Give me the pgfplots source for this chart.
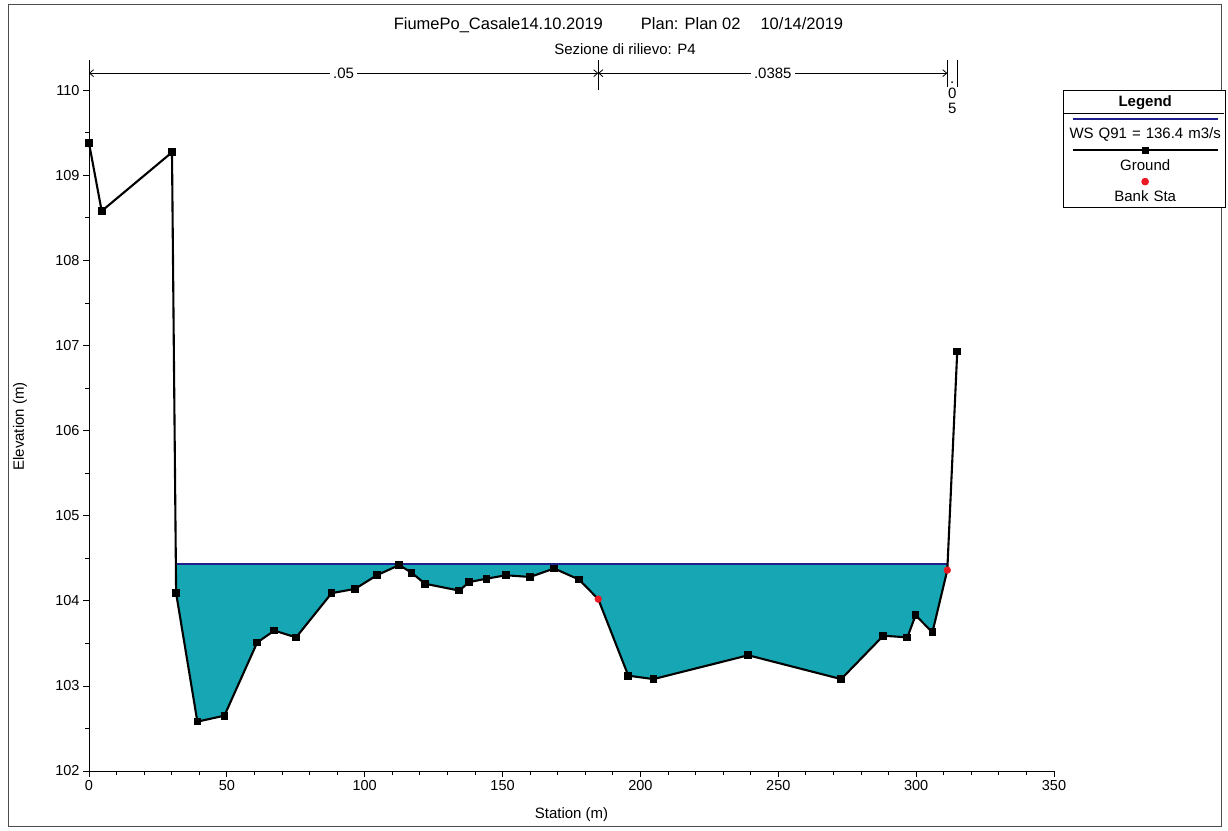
\documentclass[border=0pt]{standalone}
\usepackage{fontspec}
\setmainfont{Liberation Sans}
\usepackage{pgfplots}
\pgfplotsset{compat=1.18}
\usetikzlibrary{arrows.meta}
\definecolor{water}{RGB}{22,166,180}
\definecolor{wsblue}{RGB}{30,30,140}
\definecolor{bankred}{RGB}{235,25,35}
\begin{document}
\begin{tikzpicture}
\useasboundingbox (0pt,0pt) rectangle (1228pt,830pt);
\draw[line width=0.8pt, black!70] (8pt,4pt) rectangle (1221pt,826pt);
\node[anchor=base, font=\fontsize{16.5}{20}\selectfont, inner sep=0pt] at (618.5pt,800pt) {FiumePo\_Casale14.10.2019\hspace{38pt}Plan: Plan 02\hspace{20pt}10/14/2019};
\node[anchor=base, font=\fontsize{15}{18}\selectfont, inner sep=0pt] at (625pt,775pt) {Sezione di rilievo: P4};
\begin{axis}[
  at={(89pt,59pt)}, anchor=south west,
  scale only axis, width=965pt, height=710.6pt,
  xmin=0, xmax=350, ymin=102, ymax=110.35,
  axis lines=left, axis line style={-, line width=0.9pt},
  xtick={0,50,...,350}, ytick={102,103,...,110},
  minor x tick num=4, minor y tick num=1,
  tick align=outside, major tick length=6pt, minor tick length=4pt,
  tick style={black, line width=0.8pt},
  tick label style={font=\fontsize{14.5}{17}\selectfont},
  /pgf/number format/assume math mode=true,
  xlabel={Station (m)}, ylabel={Elevation (m)},
  label style={font=\fontsize{15}{18}\selectfont},
  xlabel style={at={(axis description cs:0.5,-0.062)}, anchor=center},
  ylabel style={at={(axis description cs:-0.0715,0.485)}, anchor=center},
  clip=false,
  legend style={at={(1.009,0.9584)}, anchor=north west, draw=black, line width=0.8pt,
    inner xsep=2pt, inner ysep=0pt, row sep=0pt,
    font=\fontsize{15}{18}\selectfont,
    nodes={inner xsep=0pt, inner ysep=0.5pt, text width=156pt, align=center, text height=25pt, text depth=5.5pt},
    cells={anchor=center}},
]
\addlegendimage{legend image code/.code={\path (0pt,0pt); \draw[overlay, black, line width=0.8pt] (-2pt,-11.5pt) -- (158pt,-11.5pt);}}
\addlegendentry[text height=13pt, text depth=4pt, inner ysep=3pt]{\textbf{Legend}}

\addplot[fill=water, draw=none, forget plot] coordinates {
(31.5,104.43) (31.6,104.09) (39.3,102.58) (49.1,102.65) (61.0,103.51) (67.2,103.65)
(75.1,103.57) (88.0,104.09) (96.5,104.14) (104.4,104.30) (112.5,104.42) (117.0,104.33)
(121.9,104.20) (134.3,104.12) (137.9,104.22) (144.2,104.26) (151.2,104.30) (160.0,104.28)
(168.7,104.38) (177.7,104.25) (184.7,104.02) (195.6,103.12) (204.7,103.08) (239.1,103.36)
(272.8,103.08) (288.1,103.59) (296.8,103.57) (299.8,103.83) (305.9,103.63) (311.3,104.36)
(311.4,104.43)};

\addplot[wsblue, line width=2pt,
  legend image code/.code={\path (0pt,0pt); \draw[overlay, wsblue, line width=2pt] (7pt,10.5pt) -- (151.4pt,10.5pt);}]
  coordinates {(31.5,104.43) (311.4,104.43)};
\addlegendentry{WS Q91 = 136.4 m3/s}

\addplot[black, line width=2.1pt, mark=square*, mark size=2.8pt, mark options={solid},
  mark indices={1,2,3,4,5,6,7,8,9,10,11,12,13,14,15,16,17,18,19,20,21,22,24,25,26,27,28,29,30,31,33},
  legend image code/.code={\path (0pt,0pt); \draw[overlay, black, line width=2pt] (7pt,10.5pt) -- (151.4pt,10.5pt); \draw[overlay] plot[mark=square*, mark size=2.4pt, only marks] coordinates {(79pt,10.5pt)};}]
  coordinates {
(0,109.38) (4.6,108.58) (30.1,109.27) (31.6,104.09) (39.3,102.58) (49.1,102.65)
(61.0,103.51) (67.2,103.65) (75.1,103.57) (88.0,104.09) (96.5,104.14) (104.4,104.30)
(112.5,104.42) (117.0,104.33) (121.9,104.20) (134.3,104.12) (137.9,104.22) (144.2,104.26)
(151.2,104.30) (160.0,104.28) (168.7,104.38) (177.7,104.25) (184.7,104.02) (195.6,103.12)
(204.7,103.08) (239.1,103.36) (272.8,103.08) (288.1,103.59) (296.8,103.57) (299.8,103.83)
(305.9,103.63) (311.3,104.36) (314.9,106.93)};
\addlegendentry{Ground}

\addplot[only marks, mark=*, mark size=3.4pt, color=bankred,
  legend image code/.code={\path (0pt,0pt); \draw[overlay] plot[only marks, mark=*, mark size=3.4pt] coordinates {(79pt,10.5pt)};}]
  coordinates {(184.7,104.02) (311.3,104.36)};
\addlegendentry{Bank Sta}

% Manning n annotations
\draw[{Straight Barb[length=4pt,width=7pt]}-{Straight Barb[length=4pt,width=7pt]}, line width=0.8pt] (axis cs:0,110.2) -- (axis cs:184.7,110.2);
\draw[{Straight Barb[length=4pt,width=7pt]}-{Straight Barb[length=4pt,width=7pt]}, line width=0.8pt] (axis cs:184.7,110.2) -- (axis cs:311.3,110.2);
\node[fill=white, inner sep=3pt, font=\fontsize{15}{18}\selectfont] at (axis cs:92.35,110.2) {.05};
\node[fill=white, inner sep=3pt, font=\fontsize{15}{18}\selectfont] at (axis cs:248,110.2) {.0385};
\draw[line width=0.9pt] (axis cs:184.7,110.0) -- (axis cs:184.7,110.36);
\draw[line width=0.9pt] (axis cs:311.3,110.04) -- (axis cs:311.3,110.36);
\draw[line width=0.9pt] (axis cs:314.9,110.04) -- (axis cs:314.9,110.36);
\node[anchor=north, inner sep=0pt, align=center, font=\fontsize{15}{15}\selectfont] at (axis cs:313.1,110.095) {.\\0\\5};
\end{axis}
\end{tikzpicture}
\end{document}
